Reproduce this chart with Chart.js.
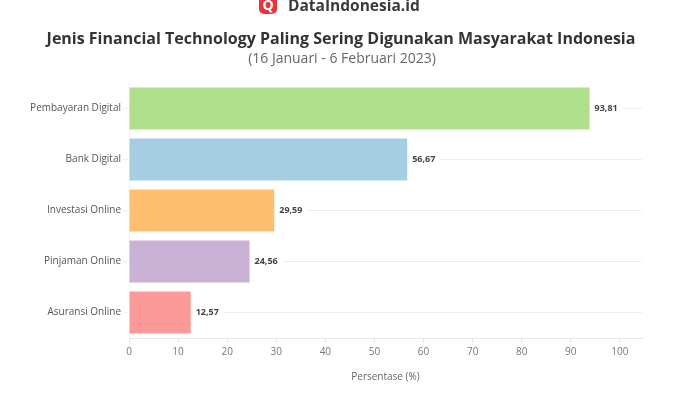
<!DOCTYPE html>
<html><head><meta charset="utf-8">
<script src="https://cdn.jsdelivr.net/npm/chart.js@4/dist/chart.umd.min.js"></script>
<style>
html,body{margin:0;padding:0;background:#fff;}
#wrap{position:relative;width:700px;height:400px;overflow:hidden;font-family:"Open Sans",sans-serif;}
#logo{position:absolute;left:259px;top:-6px;height:22px;display:flex;align-items:center;}
#logo .ic{width:18px;height:18px;border-radius:5px;background:#e8343c;color:#fff;font-weight:700;font-size:14px;line-height:18px;text-align:center;margin-right:11px;}
#logo .tx{font-size:15.5px;font-weight:700;color:#3a3a3a;}
#title{position:absolute;left:0;width:682px;top:27px;text-align:center;font-size:16px;font-weight:700;color:#333;}
#sub{position:absolute;left:0;width:684px;top:48px;text-align:center;font-size:14px;color:#666;}
canvas{position:absolute;left:0;top:0;}
</style></head>
<body><div id="wrap">
<canvas id="c" width="700" height="400"></canvas>
<div id="logo"><div class="ic">Q</div><div class="tx">DataIndonesia.id</div></div>
<div id="title">Jenis Financial Technology Paling Sering Digunakan Masyarakat Indonesia</div>
<div id="sub">(16 Januari - 6 Februari 2023)</div>
</div>
<script>
const categories = ["Pembayaran Digital","Bank Digital","Investasi Online","Pinjaman Online","Asuransi Online"];
const values = [93.81, 56.67, 29.59, 24.56, 12.57];
const barColors = ["#b0df8b","#a6cee3","#fdbf6f","#cab2d6","#fb9a99"];
const xTicks = [0,10,20,30,40,50,60,70,80,90,100];
const xTitle = "Persentase (%)";

const labelPlugin = {
  id:'vlabels',
  afterDatasetsDraw(chart){
    const ctx = chart.ctx;
    const meta = chart.getDatasetMeta(0);
    ctx.save();
    ctx.font = "bold 9px 'Open Sans', sans-serif";
    ctx.textBaseline = "middle";
    ctx.textAlign = "left";
    meta.data.forEach((el,i)=>{
      const t = values[i].toFixed(2).replace('.',',');
      const w = ctx.measureText(t).width;
      ctx.fillStyle = "#fff";
      ctx.fillRect(el.x+2, el.y-6, w+8, 12);
      ctx.fillStyle = "#444";
      ctx.fillText(t, el.x+5, el.y);
    });
    ctx.restore();
  }
};

new Chart(document.getElementById('c'), {
  type:'bar',
  data:{labels:categories, datasets:[{data:values, backgroundColor:barColors, barPercentage:0.82, categoryPercentage:1}]},
  options:{
    indexAxis:'y', responsive:false, animation:false,
    layout:{padding:{top:83,right:58,left:0,bottom:0}},
    plugins:{legend:{display:false},tooltip:{enabled:false}},
    scales:{
      x:{min:0,max:104.5,
        afterBuildTicks(s){ s.ticks = xTicks.map(v=>({value:v})); },
        afterFit(s){ s.height = 62; },
        grid:{drawOnChartArea:false,color:'#e6e6e6',tickLength:5},
        border:{color:'#e6e6e6'},
        ticks:{color:'#777',font:{family:"'Open Sans', sans-serif",size:10},padding:3,maxRotation:0},
        title:{display:true,text:xTitle,color:'#666',font:{family:"'Open Sans', sans-serif",size:10},padding:{top:4,bottom:17}}
      },
      y:{
        afterFit(s){ s.width = 129; },
        grid:{color:'#efefef',tickLength:6,offset:false},
        border:{color:'#f2f2f2'},
        ticks:{color:'#555',font:{family:"'Open Sans', sans-serif",size:10},padding:2}
      }
    }
  },
  plugins:[labelPlugin]
});
</script>
</body></html>
